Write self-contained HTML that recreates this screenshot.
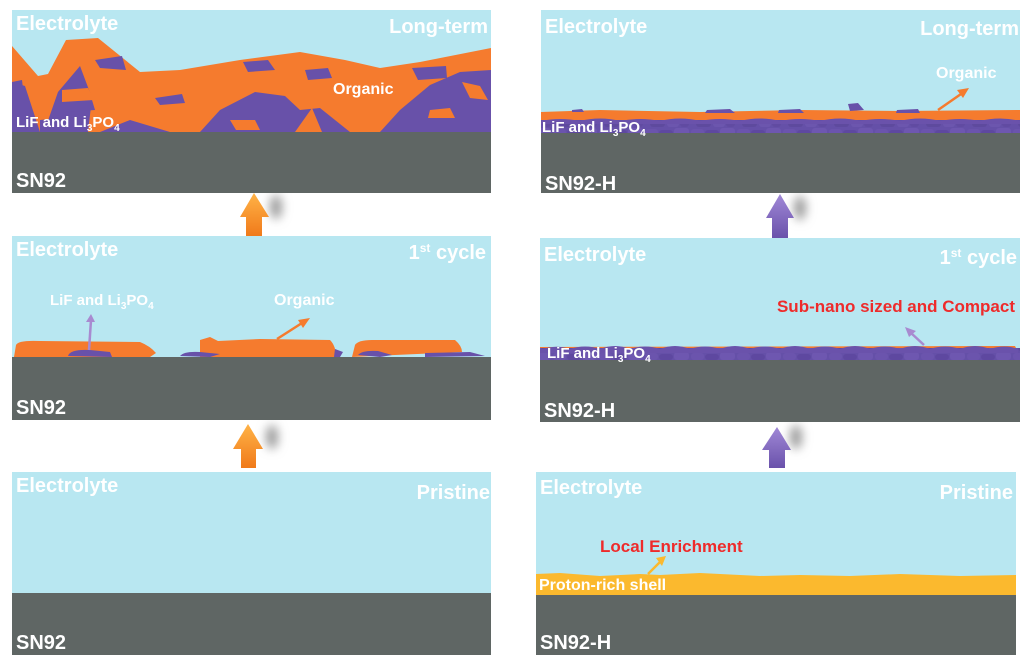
<!DOCTYPE html>
<html><head><meta charset="utf-8"><style>
html,body{margin:0;padding:0;background:#fff;width:1025px;height:660px;overflow:hidden}
svg{display:block}
text{font-family:"Liberation Sans",sans-serif;font-weight:bold}
</style></head><body>
<svg width="1025" height="660" viewBox="0 0 1025 660" xmlns="http://www.w3.org/2000/svg">
<defs>
<pattern id="gr" x="0" y="0" width="46" height="16" patternUnits="userSpaceOnUse">
<rect width="46" height="16" fill="#6550a8"/>
<rect x="1" y="1" width="13" height="7" rx="3" fill="#6b54ad"/>
<rect x="15" y="2" width="14" height="6" rx="3" fill="#5e48a0"/>
<rect x="30" y="0" width="15" height="8" rx="3" fill="#6e57b0"/>
<rect x="6" y="9" width="15" height="6" rx="3" fill="#5e4a9e"/>
<rect x="23" y="9" width="12" height="6" rx="3" fill="#6c56ae"/>
<rect x="36" y="9" width="9" height="6" rx="3" fill="#614ba2"/>
</pattern>
<filter id="bl" x="-1" y="-1" width="3" height="3"><feGaussianBlur stdDeviation="5"/></filter>
<linearGradient id="oa" x1="0" y1="0" x2="0" y2="1"><stop offset="0" stop-color="#ffb347"/><stop offset="1" stop-color="#f07a1a"/></linearGradient>
<linearGradient id="pa" x1="0" y1="0" x2="0" y2="1"><stop offset="0" stop-color="#a088d6"/><stop offset="1" stop-color="#6a52ab"/></linearGradient>
</defs>

<!-- arrows -->
<g>
<ellipse cx="276" cy="207" rx="6" ry="12" fill="#999" filter="url(#bl)"/>
<polygon points="240,217 254,193 269,217 262,217 262,236 246,236 246,217" fill="url(#oa)"/>
<ellipse cx="272" cy="437" rx="6" ry="12" fill="#999" filter="url(#bl)"/>
<polygon points="233,449 248,424 263,449 256,449 256,468 241,468 241,449" fill="url(#oa)"/>
<ellipse cx="800" cy="208" rx="6" ry="12" fill="#999" filter="url(#bl)"/>
<polygon points="766,218 780,194 794,218 788,218 788,238 772,238 772,218" fill="url(#pa)"/>
<ellipse cx="796" cy="437" rx="6" ry="12" fill="#999" filter="url(#bl)"/>
<polygon points="762,450 777,427 791,450 785,450 785,468 769,468 769,450" fill="url(#pa)"/>
</g>

<!-- LEFT TOP -->
<rect x="12" y="10" width="479" height="122" fill="#b8e7f1"/>
<path d="M12,46 L38,76 L48,74 L66,40 L98,38 L140,72 L180,70 L240,60 L300,52 L345,60 L380,68 L420,62 L491,48 L491,132 L12,132Z" fill="#f57b2e"/>
<path d="M12,82 L22,80 L28,132 Z M44,132 L58,92 L80,66 L92,98 L88,132 Z M40,120 L60,118 L72,132 L40,132Z" fill="#6851a9"/>
<path d="M200,132 L220,110 L255,92 L285,96 L300,110 L320,108 L350,132Z M380,132 L400,110 L430,85 L460,72 L491,70 L491,132Z M12,82 L25,86 L40,132 L12,132Z M100,132 L130,120 L170,132Z" fill="#6851a9"/>
<path d="M95,60 L122,56 L126,70 L100,68Z M155,98 L182,94 L185,103 L160,105Z M243,62 L268,60 L275,70 L248,72Z M305,70 L328,68 L332,78 L308,80Z M412,68 L446,66 L447,78 L418,80Z M72,100 L92,100 L95,110 L66,112Z" fill="#6851a9"/>
<path d="M62,90 L88,88 L94,100 L62,102Z M230,120 L255,120 L260,130 L236,130Z M295,132 L312,108 L322,132Z M430,110 L450,108 L455,118 L428,118Z M462,82 L480,86 L488,100 L470,98Z" fill="#f57b2e"/>
<rect x="12" y="132" width="479" height="61" fill="#5f6664"/>
<text x="16" y="30" font-size="20" fill="#fff">Electrolyte</text>
<text x="488" y="33" font-size="20" fill="#fff" text-anchor="end">Long-term</text>
<text x="333" y="94" font-size="16" fill="#fff">Organic</text>
<text x="16" y="127" font-size="15" fill="#fff">LiF and Li<tspan font-size="10" dy="4">3</tspan><tspan dy="-4">PO</tspan><tspan font-size="10" dy="4">4</tspan></text>
<text x="16" y="187" font-size="20" fill="#fff">SN92</text>

<!-- LEFT MIDDLE -->
<rect x="12" y="236" width="479" height="121" fill="#b8e7f1"/>
<path d="M16,345 Q18,340 40,341 L140,342 Q150,346 156,353 L150,357 L14,357Z" fill="#f57b2e"/>
<path d="M200,340 L210,337 L218,341 L260,339 L330,340 Q336,346 336,357 L200,357Z" fill="#f57b2e"/>
<path d="M355,345 Q358,340 372,340 L455,340 Q462,346 462,352 L352,357Z" fill="#f57b2e"/>
<path d="M68,356 Q70,349 90,350 L110,352 L112,357Z M180,356 Q184,351 200,352 L220,354 L210,357Z M335,349 L343,352 L340,357 L334,357Z M358,355 Q362,350 378,351 L392,355 L380,357Z M425,353 L470,352 L485,356 L425,357Z" fill="#6851a9"/>
<line x1="89" y1="350" x2="91" y2="320" stroke="#a88ad0" stroke-width="2.5"/><polygon points="86,322 91,314 95,322" fill="#a88ad0"/>
<line x1="277" y1="339" x2="302" y2="323" stroke="#f57b2e" stroke-width="2.5"/><polygon points="298,320 310,318 303,328" fill="#f57b2e"/>
<rect x="12" y="357" width="479" height="63" fill="#5f6664"/>
<text x="16" y="256" font-size="20" fill="#fff">Electrolyte</text>
<text x="486" y="259" font-size="20" fill="#fff" text-anchor="end">1<tspan font-size="12" dy="-7">st</tspan><tspan dy="7"> cycle</tspan></text>
<text x="50" y="305" font-size="15" fill="#fff">LiF and Li<tspan font-size="10" dy="4">3</tspan><tspan dy="-4">PO</tspan><tspan font-size="10" dy="4">4</tspan></text>
<text x="274" y="305" font-size="16" fill="#fff">Organic</text>
<text x="16" y="414" font-size="20" fill="#fff">SN92</text>

<!-- LEFT BOTTOM -->
<rect x="12" y="472" width="479" height="121" fill="#b8e7f1"/>
<rect x="12" y="593" width="479" height="62" fill="#5f6664"/>
<text x="16" y="492" font-size="20" fill="#fff">Electrolyte</text>
<text x="490" y="499" font-size="20" fill="#fff" text-anchor="end">Pristine</text>
<text x="16" y="649" font-size="20" fill="#fff">SN92</text>

<!-- RIGHT TOP -->
<rect x="541" y="10" width="479" height="123" fill="#b8e7f1"/>
<path d="M541,112 L600,110 L700,112 L800,110 L900,111 L1020,110 L1020,124 L541,124Z" fill="#f57b2e"/>
<rect x="541" y="120" width="479" height="14" fill="url(#gr)"/>
<path d="M541,121 Q560,117 580,121 Q600,116 620,121 Q640,117 660,121 Q680,116 700,121 Q720,117 740,121 Q760,116 780,121 Q800,117 820,121 Q840,116 860,121 Q880,117 900,121 Q920,116 940,121 Q960,117 980,121 Q1000,116 1020,121 L1020,124 L541,124Z" fill="#6a52ab"/>
<path d="M707,110 L730,109 L735,113 L705,113Z M779,110 L800,109 L804,113 L778,113Z M848,104 L858,103 L864,110 L850,111Z M897,110 L918,109 L920,113 L896,113Z M572,110 L582,109 L584,112 L572,112Z" fill="#6851a9"/>
<line x1="938" y1="110" x2="961" y2="94" stroke="#f57b2e" stroke-width="2.5"/><polygon points="957,90 969,88 963,98" fill="#f57b2e"/>
<rect x="541" y="133" width="479" height="60" fill="#5f6664"/>
<text x="545" y="33" font-size="20" fill="#fff">Electrolyte</text>
<text x="1019" y="35" font-size="20" fill="#fff" text-anchor="end">Long-term</text>
<text x="936" y="78" font-size="16" fill="#fff">Organic</text>
<text x="542" y="132" font-size="15" fill="#fff">LiF and Li<tspan font-size="10" dy="4">3</tspan><tspan dy="-4">PO</tspan><tspan font-size="10" dy="4">4</tspan></text>
<text x="545" y="190" font-size="20" fill="#fff">SN92-H</text>

<!-- RIGHT MIDDLE -->
<rect x="540" y="238" width="480" height="122" fill="#b8e7f1"/>
<path d="M540,347 L1015,346 L1018,352 L540,352Z" fill="#f57b2e"/>
<rect x="540" y="348" width="480" height="13" fill="url(#gr)"/>
<path d="M540,350 Q555,344 570,349 Q585,344 600,349 Q615,343 630,349 Q645,344 660,349 Q675,343 690,349 Q705,344 720,349 Q735,343 750,349 Q765,344 780,349 Q795,343 810,349 Q825,344 840,349 Q855,343 870,349 Q885,344 900,349 Q915,343 930,349 Q945,344 960,349 Q975,343 990,349 Q1005,344 1018,349 L1018,353 L540,353Z" fill="#6a52ab"/>
<line x1="924" y1="345" x2="911" y2="333" stroke="#a88ad0" stroke-width="2.5"/><polygon points="905,327 916,331 909,337" fill="#a88ad0"/>
<rect x="540" y="360" width="480" height="62" fill="#5f6664"/>
<text x="544" y="261" font-size="20" fill="#fff">Electrolyte</text>
<text x="1017" y="264" font-size="20" fill="#fff" text-anchor="end">1<tspan font-size="12" dy="-7">st</tspan><tspan dy="7"> cycle</tspan></text>
<text x="1015" y="312" font-size="17" fill="#ee2b2b" text-anchor="end">Sub-nano sized and Compact</text>
<text x="547" y="358" font-size="15" fill="#fff">LiF and Li<tspan font-size="10" dy="4">3</tspan><tspan dy="-4">PO</tspan><tspan font-size="10" dy="4">4</tspan></text>
<text x="544" y="417" font-size="20" fill="#fff">SN92-H</text>

<!-- RIGHT BOTTOM -->
<rect x="536" y="472" width="480" height="123" fill="#b8e7f1"/>
<path d="M536,574 L560,573 L600,576 L640,574 L660,575 L700,573 L760,576 L800,575 L850,576 L900,574 L960,576 L1016,575 L1016,595 L536,595Z" fill="#fbb92e"/>
<line x1="648" y1="574" x2="660" y2="562" stroke="#fbb92e" stroke-width="2.5"/><polygon points="656,558 666,556 662,566" fill="#fbb92e"/>
<rect x="536" y="595" width="480" height="60" fill="#5f6664"/>
<text x="540" y="494" font-size="20" fill="#fff">Electrolyte</text>
<text x="1013" y="499" font-size="20" fill="#fff" text-anchor="end">Pristine</text>
<text x="600" y="552" font-size="17" fill="#ee2b2b">Local Enrichment</text>
<text x="539" y="590" font-size="16" fill="#fff">Proton-rich shell</text>
<text x="540" y="649" font-size="20" fill="#fff">SN92-H</text>
</svg>
</body></html>
